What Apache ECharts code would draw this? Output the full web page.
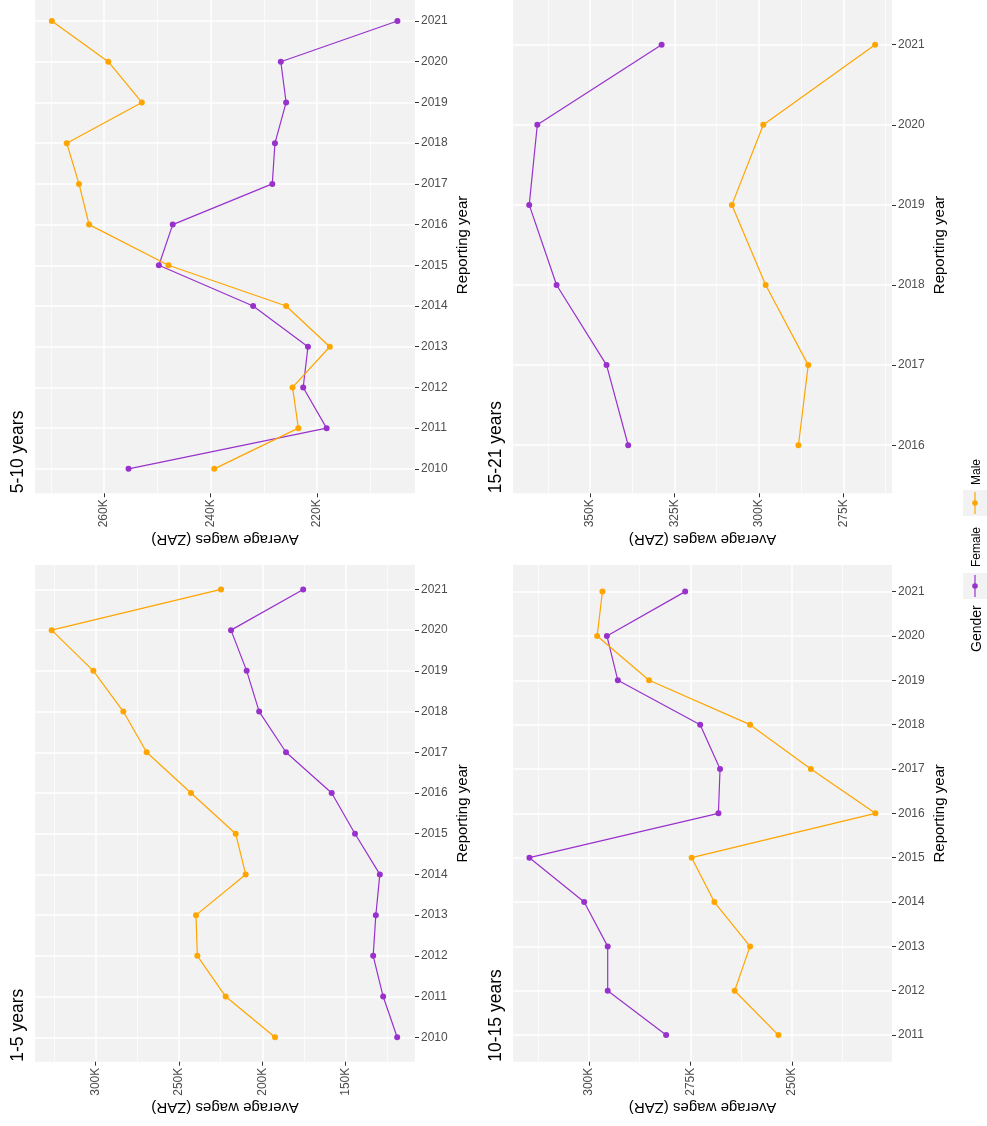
<!DOCTYPE html>
<html><head><meta charset="utf-8">
<script src="https://cdn.jsdelivr.net/npm/echarts@6/dist/echarts.min.js"></script>
<style>html,body{margin:0;padding:0;background:#fff}#c{width:987px;height:1126px}</style>
</head><body><div id="c"></div>
<script>
// ---------- data ----------
const panelTitles = ['5-10 years', '15-21 years', '1-5 years', '10-15 years'];
const genders = ['Female', 'Male'];

const years_5_10 = [2010, 2011, 2012, 2013, 2014, 2015, 2016, 2017, 2018, 2019, 2020, 2021];
const female_5_10 = [255400, 218200, 222600, 221700, 232000, 249700, 247100, 228400, 227900, 225800, 226800, 204900];
const male_5_10 = [239300, 223500, 224600, 217600, 225800, 247900, 262800, 264700, 267000, 252900, 259200, 269800];
const ticks_5_10 = [220000, 240000, 260000];
const minor_5_10 = [210000, 230000, 250000, 270000];

const years_15_21 = [2016, 2017, 2018, 2019, 2020, 2021];
const female_15_21 = [338700, 345100, 359900, 368000, 365600, 328800];
const male_15_21 = [288300, 285400, 298000, 308000, 298700, 265600];
const ticks_15_21 = [275000, 300000, 325000, 350000];
const minor_15_21 = [262500, 287500, 312500, 337500, 362500];

const years_1_5 = [2010, 2011, 2012, 2013, 2014, 2015, 2016, 2017, 2018, 2019, 2020, 2021];
const female_1_5 = [119100, 127500, 133500, 131900, 129500, 144400, 158400, 185800, 201900, 209400, 218800, 175500];
const male_1_5 = [192400, 222000, 239000, 239800, 210000, 216000, 242800, 269400, 283400, 301400, 326400, 224800];
const ticks_1_5 = [150000, 200000, 250000, 300000];
const minor_1_5 = [125000, 175000, 225000, 275000, 325000];

const years_10_15 = [2011, 2012, 2013, 2014, 2015, 2016, 2017, 2018, 2019, 2020, 2021];
const female_10_15 = [281000, 295400, 295400, 301200, 314700, 268100, 267700, 272600, 292900, 295600, 276300];
const male_10_15 = [253300, 264100, 260300, 269100, 274700, 229400, 245300, 260300, 285200, 298000, 296700];
const ticks_10_15 = [250000, 275000, 300000];
const minor_10_15 = [237500, 262500, 287500, 312500];

// ---------- layout / styles ----------
const COLORS = {Female: '#9932CC', Male: '#FFA500'};
const FONT = '"Liberation Sans", Arial, sans-serif';
const panels = [
  {title: panelTitles[0], years: years_5_10, female: female_5_10, male: male_5_10, ticks: ticks_5_10, minor: minor_5_10,
   xmin: 201600, xmax: 272960, left: 35, top: -3.4, width: 380},
  {title: panelTitles[1], years: years_15_21, female: female_15_21, male: male_15_21, ticks: ticks_15_21, minor: minor_15_21,
   xmin: 260600, xmax: 372800, left: 513, top: -3.4, width: 379},
  {title: panelTitles[2], years: years_1_5, female: female_1_5, male: male_1_5, ticks: ticks_1_5, minor: minor_1_5,
   xmin: 108400, xmax: 336400, left: 35, top: 565, width: 380},
  {title: panelTitles[3], years: years_10_15, female: female_10_15, male: male_10_15, ticks: ticks_10_15, minor: minor_10_15,
   xmin: 225300, xmax: 318750, left: 513, top: 565, width: 379}
];
const PH = 496.7;

const grid = [], xAxis = [], yAxis = [], series = [], graphic = [];
panels.forEach((p, i) => {
  grid.push({left: p.left, top: p.top, width: p.width, height: PH, show: true,
    backgroundColor: '#F2F2F2', borderWidth: 0, containLabel: false, outerBoundsMode: 'none'});
  // major value axis
  xAxis.push({type: 'value', gridIndex: i, position: 'bottom', inverse: true, min: p.xmin, max: p.xmax,
    axisLine: {show: false},
    axisTick: {show: true, length: 4, lineStyle: {color: '#333333', width: 1}, customValues: p.ticks},
    axisLabel: {show: true, rotate: 90, margin: 6, customValues: p.ticks, color: '#4D4D4D', fontSize: 12, fontFamily: FONT,
      formatter: v => (v / 1000) + 'K'},
    splitLine: {show: true, lineStyle: {color: '#FFFFFF', width: 1.5}},
    name: 'Average wages (ZAR)', nameLocation: 'middle', nameRotate: 180, nameGap: 38,
    nameTextStyle: {color: '#000000', fontSize: 15, fontFamily: FONT}});
  // minor grid lines
  xAxis.push({type: 'value', gridIndex: i, position: 'top', inverse: true, min: p.xmin, max: p.xmax,
    axisLine: {show: false}, axisTick: {show: false, customValues: p.minor},
    axisLabel: {show: false, customValues: p.minor},
    splitLine: {show: true, lineStyle: {color: '#FFFFFF', width: 0.7}}});
  const y0 = p.years[0], y1 = p.years[p.years.length - 1];
  yAxis.push({type: 'value', gridIndex: i, position: 'right', min: y0 - 0.6, max: y1 + 0.6,
    axisLine: {show: false},
    axisTick: {show: true, length: 4, lineStyle: {color: '#333333', width: 1}, customValues: p.years},
    axisLabel: {show: true, margin: 6, customValues: p.years, color: '#4D4D4D', fontSize: 12, fontFamily: FONT,
      formatter: v => String(v)},
    splitLine: {show: true, lineStyle: {color: '#FFFFFF', width: 1.5}},
    name: 'Reporting year', nameLocation: 'middle', nameRotate: 90, nameGap: 40,
    nameTextStyle: {color: '#000000', fontSize: 15, fontFamily: FONT}});
  [['Female', p.female], ['Male', p.male]].forEach(([g, vals]) => {
    series.push({type: 'line', name: g, xAxisIndex: 2 * i, yAxisIndex: i,
      data: vals.map((v, k) => [v, p.years[k]]),
      symbol: 'circle', symbolSize: 6, showSymbol: true,
      itemStyle: {color: COLORS[g]}, lineStyle: {color: COLORS[g], width: 1.2}, z: 3});
  });
  graphic.push({type: 'text', x: p.left - 17, y: p.top + PH, rotation: Math.PI / 2,
    style: {text: p.title, fill: '#000000', font: '17.5px ' + FONT, align: 'left', verticalAlign: 'middle'}});
});

// legend (rotated, drawn as graphics)
graphic.push({type: 'text', x: 977, y: 652, rotation: Math.PI / 2,
  style: {text: 'Gender', fill: '#000000', font: '14px ' + FONT, align: 'left', verticalAlign: 'middle'}});
const legendKeys = [{g: 'Female', cy: 586, ty: 567}, {g: 'Male', cy: 503, ty: 485}];
legendKeys.forEach(k => {
  graphic.push({type: 'rect', shape: {x: 963, y: k.cy - 13, width: 24, height: 26}, style: {fill: '#F2F2F2'}});
  graphic.push({type: 'line', shape: {x1: 975, y1: k.cy - 11, x2: 975, y2: k.cy + 11},
    style: {stroke: COLORS[k.g], lineWidth: 1.2}});
  graphic.push({type: 'circle', shape: {cx: 975, cy: k.cy, r: 2.8}, style: {fill: COLORS[k.g]}});
  graphic.push({type: 'text', x: 977, y: k.ty, rotation: Math.PI / 2,
    style: {text: k.g, fill: '#000000', font: '12px ' + FONT, align: 'left', verticalAlign: 'middle'}});
});

const chart = echarts.init(document.getElementById('c'), null, {renderer: 'canvas'});
chart.setOption({animation: false, backgroundColor: '#FFFFFF', grid, xAxis, yAxis, series, graphic,
  tooltip: {show: false}, legend: {show: false}});
</script></body></html>
